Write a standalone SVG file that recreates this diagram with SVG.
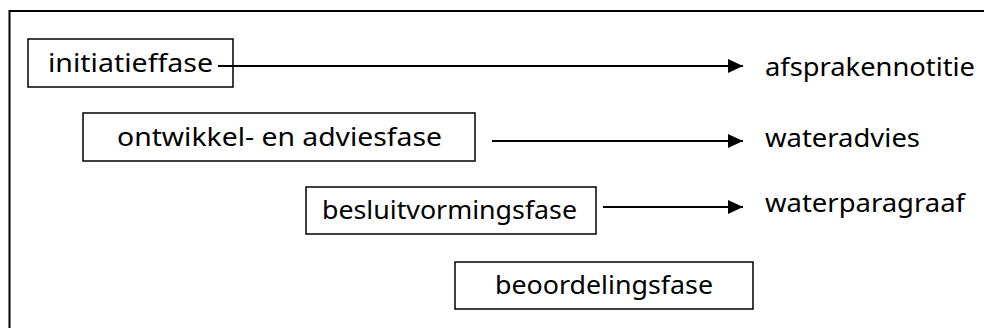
<svg xmlns="http://www.w3.org/2000/svg" width="984" height="328" viewBox="0 0 984 328">
<defs>
<style>
.box{fill:#fff;stroke:#000;stroke-width:1.5}
.t{font-family:"Noto Sans","DejaVu Sans",sans-serif;font-size:25px;fill:#000}
.r{font-family:"Noto Sans","DejaVu Sans",sans-serif;font-size:26px;fill:#000}
.c{stroke:#000;stroke-width:2;fill:none}
</style>
<marker id="ah" markerWidth="15" markerHeight="14" refX="15" refY="7" orient="auto" markerUnits="userSpaceOnUse">
<path d="M0,0 L15,7 L0,14 Z" fill="#000"/>
</marker>
</defs>
<rect width="984" height="328" fill="#fff"/>
<path d="M9.5,328 V11 H984" fill="none" stroke="#000" stroke-width="2"/>
<g id="initiatieffase">
<rect class="box" x="28" y="39" width="205" height="48"/>
<text class="t" x="48" y="72" textLength="165" lengthAdjust="spacingAndGlyphs">initiatieffase</text>
</g>
<g id="ontwikkel">
<rect class="box" x="83" y="113" width="392" height="48"/>
<text class="t" x="117" y="146" textLength="325" lengthAdjust="spacingAndGlyphs">ontwikkel- en adviesfase</text>
</g>
<g id="besluitvorming">
<rect class="box" x="306" y="187" width="290" height="47"/>
<text class="t" x="322" y="219" textLength="255" lengthAdjust="spacingAndGlyphs">besluitvormingsfase</text>
</g>
<g id="beoordeling">
<rect class="box" x="455" y="262" width="298" height="47"/>
<text class="t" x="495" y="294" textLength="218" lengthAdjust="spacingAndGlyphs">beoordelingsfase</text>
</g>
<g id="afsprakennotitie"><text class="r" x="765" y="76" textLength="210" lengthAdjust="spacingAndGlyphs">afsprakennotitie</text></g>
<g id="wateradvies"><text class="r" x="765" y="147" textLength="155" lengthAdjust="spacingAndGlyphs">wateradvies</text></g>
<g id="waterparagraaf"><text class="r" x="765" y="212" textLength="200" lengthAdjust="spacingAndGlyphs">waterparagraaf</text></g>
<g id="connectors">
<line class="c" x1="218" y1="66" x2="743" y2="66" marker-end="url(#ah)"/>
<line class="c" x1="492" y1="141" x2="743" y2="141" marker-end="url(#ah)"/>
<line class="c" x1="603" y1="207" x2="743" y2="207" marker-end="url(#ah)"/>
</g>
</svg>
